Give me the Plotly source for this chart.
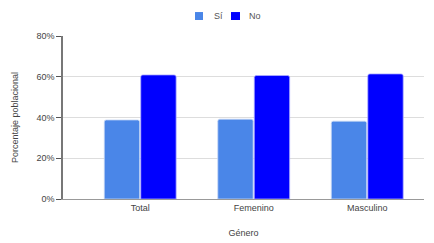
import plotly.graph_objects as go

categories = ["Total", "Femenino", "Masculino"]
si_values = [0.388, 0.392, 0.382]
no_values = [0.609, 0.606, 0.614]
series_names = ["Sí", "No"]
series_colors = ["#4a86e8", "#0000ff"]
y_ticks = [0, 0.2, 0.4, 0.6, 0.8]
y_tick_labels = ["0%", "20%", "40%", "60%", "80%"]

font = "Liberation Sans, Arial, sans-serif"

fig = go.Figure()
fig.add_trace(go.Bar(x=categories, y=si_values, name=series_names[0], showlegend=False,
                     marker=dict(color=series_colors[0], line=dict(color="#c9d9f5", width=0.8), cornerradius=2)))
fig.add_trace(go.Bar(x=categories, y=no_values, name=series_names[1], showlegend=False,
                     marker=dict(color=series_colors[1], line=dict(color="#b0b0ff", width=0.8), cornerradius=2)))

# manual legend (layout positions in paper coordinates)
legend_sq_x = [(0.3657, 0.3878), (0.4654, 0.4903)]
legend_txt_x = [0.4127, 0.5097]
for i in range(2):
    fig.add_shape(type="rect", xref="paper", yref="paper",
                  x0=legend_sq_x[i][0], x1=legend_sq_x[i][1], y0=1.098, y1=1.147,
                  fillcolor=series_colors[i], line=dict(width=0))
    fig.add_annotation(xref="paper", yref="paper", x=legend_txt_x[i], y=1.1227,
                       text=series_names[i], showarrow=False, xanchor="left", yanchor="middle",
                       font=dict(size=9, color="#555"))

fig.update_layout(
    width=434, height=243,
    margin=dict(l=55, r=18, t=28, b=52, autoexpand=False),
    paper_bgcolor="white", plot_bgcolor="white",
    barmode="group", bargap=0.357, bargroupgap=0.03,
    font=dict(family=font, size=9, color="#444"),
    showlegend=False,
)
fig.update_xaxes(
    range=[-0.68, 2.5], showgrid=False, showline=True, linecolor="#999", linewidth=1,
    ticks="", tickfont=dict(size=9, color="#444"),
    title=dict(text="Género", font=dict(size=9, color="#444"), standoff=17),
)
fig.update_yaxes(
    range=[0, 0.8], tickvals=y_ticks, ticktext=y_tick_labels,
    showgrid=True, gridcolor="#dddddd", gridwidth=1,
    showline=True, linecolor="#777", linewidth=1.5,
    ticks="outside", ticklen=5, tickcolor="#555", tickwidth=1,
    zeroline=False, tickfont=dict(size=9, color="#444"),
    title=dict(text="Porcentaje poblacional", font=dict(size=9, color="#444"), standoff=16),
)

fig.write_html("out.html")
